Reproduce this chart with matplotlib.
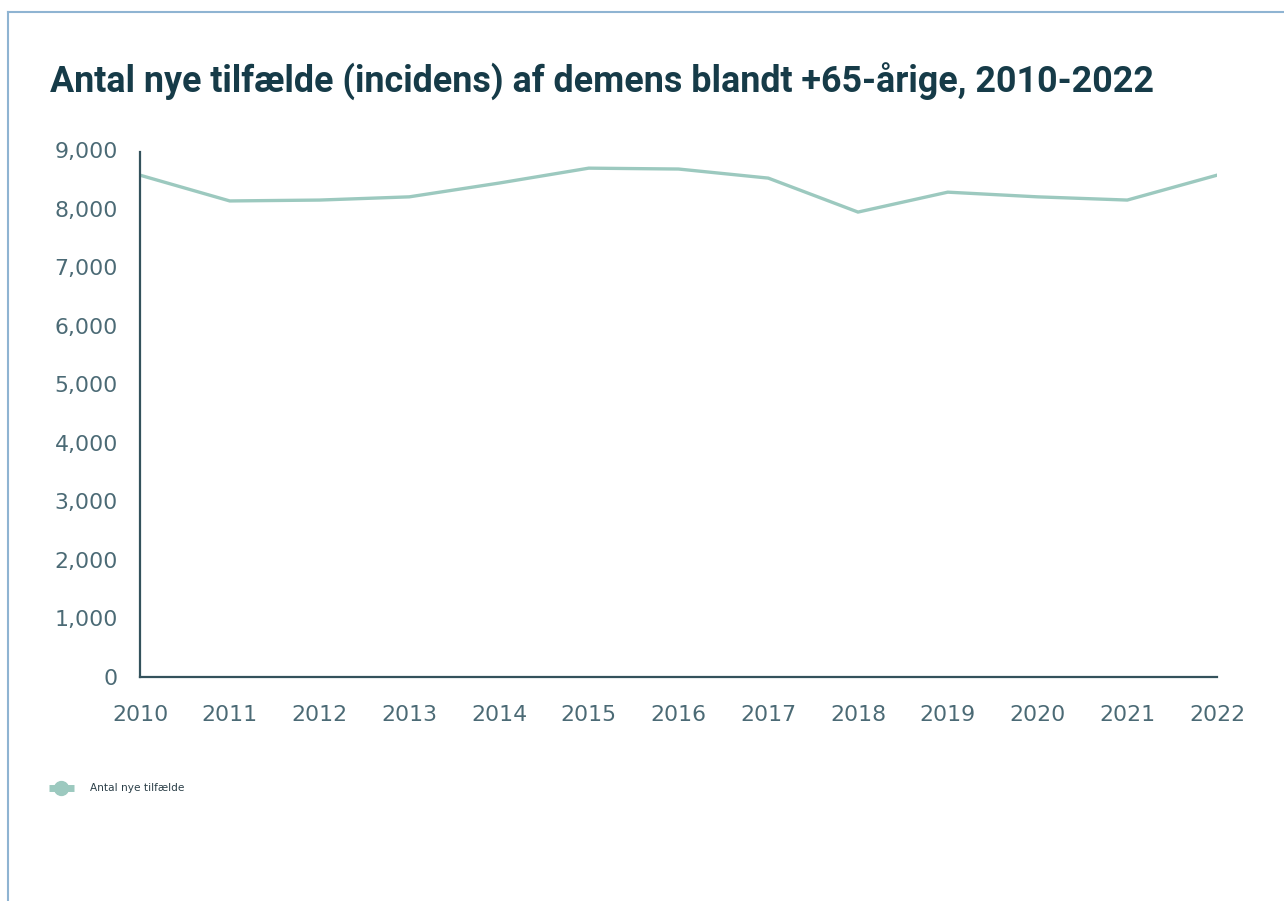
import matplotlib
matplotlib.use("Agg")
import matplotlib.pyplot as plt
from matplotlib.lines import Line2D

years = [2010, 2011, 2012, 2013, 2014, 2015, 2016, 2017, 2018, 2019, 2020, 2021, 2022]
new_cases = [8570, 8130, 8145, 8200, 8435, 8690, 8675, 8520, 7940, 8280, 8200, 8145, 8570]
y_ticks = [0, 1000, 2000, 3000, 4000, 5000, 6000, 7000, 8000, 9000]

title = "Antal nye tilfælde (incidens) af demens blandt +65-årige, 2010-2022"
series_label = "Antal nye tilfælde"

line_color = "#9cc9bf"
title_color = "#163b48"
tick_color = "#4b6a75"
spine_color = "#34525c"
frame_color = "#8fb4d2"

fig = plt.figure(figsize=(12.84, 9.01), dpi=100)

# outer frame (top and left edge only visible)
fig.add_artist(Line2D([8 / 1284, 1.0], [1 - 12 / 901, 1 - 12 / 901],
                      transform=fig.transFigure, color=frame_color, lw=1.5))
fig.add_artist(Line2D([8 / 1284, 8 / 1284], [0.0, 1 - 12 / 901],
                      transform=fig.transFigure, color=frame_color, lw=1.5))

fig.text(50 / 1284, 1 - 93 / 901, title, fontsize=25.8, fontweight="bold",
         family="Roboto", color=title_color, ha="left", va="baseline")

ax = fig.add_axes([140 / 1284, 1 - 677 / 901, 1077 / 1284, 527 / 901])
ax.plot(years, new_cases, color=line_color, lw=2.4, solid_joinstyle="miter")

ax.set_xlim(2010, 2022)
ax.set_ylim(0, 9000)
ax.set_xticks(years)
ax.set_yticks(y_ticks)
ax.set_yticklabels([f"{v:,}" for v in y_ticks])

for s in ["top", "right"]:
    ax.spines[s].set_visible(False)
for s in ["left", "bottom"]:
    ax.spines[s].set_color(spine_color)
    ax.spines[s].set_linewidth(1.6)
ax.spines["left"].set_bounds(0, 8960)

ax.tick_params(axis="both", length=0, labelsize=15.8, colors=tick_color)
ax.tick_params(axis="y", pad=16)
ax.tick_params(axis="x", pad=20)

# legend
fig.add_artist(Line2D([49 / 1284, 74 / 1284], [1 - 788 / 901, 1 - 788 / 901],
                      transform=fig.transFigure, color=line_color, lw=5,
                      solid_capstyle="butt"))
fig.add_artist(Line2D([61 / 1284], [1 - 788 / 901], transform=fig.transFigure,
                      marker="o", markersize=10, color=line_color, lw=0))
fig.text(90 / 1284, 1 - 788 / 901, series_label, fontsize=7.6,
         family=["Liberation Sans Narrow", "DejaVu Sans"], color="#2b3f48",
         ha="left", va="center")

fig.savefig("out.png", dpi=100)
